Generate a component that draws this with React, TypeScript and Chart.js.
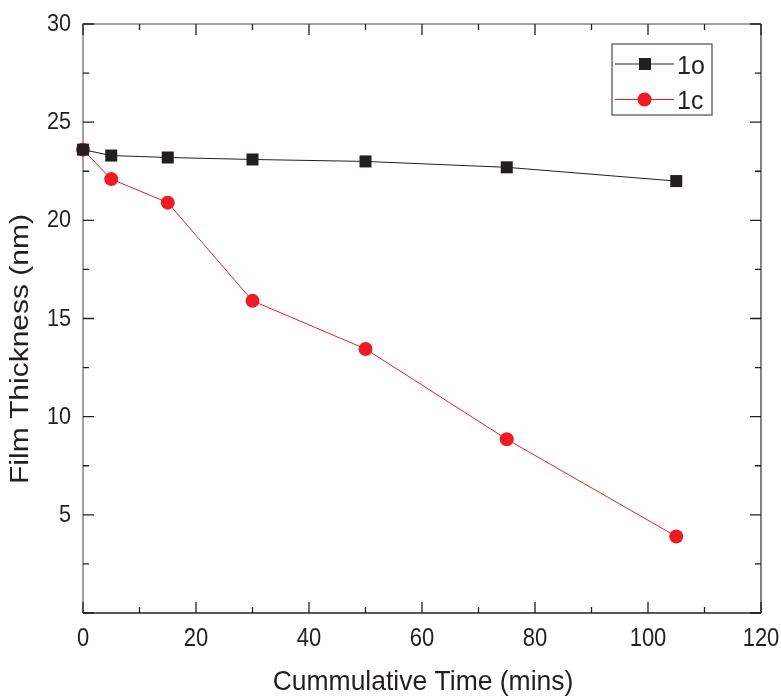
import React, { useEffect, useRef } from "react";
import { Chart, registerables } from "chart.js";

Chart.register(...registerables);

const timeMins = [0, 5, 15, 30, 50, 75, 105];
const thickness1o = [23.6, 23.3, 23.2, 23.1, 23.0, 22.7, 22.0];
const thickness1c = [23.6, 22.1, 20.9, 15.9, 13.45, 8.85, 3.9];
const seriesLabels = ["1o", "1c"];
const xMajorTicks = [0, 20, 40, 60, 80, 100, 120];
const xMinorTicks = [10, 30, 50, 70, 90, 110];
const yMajorTicks = [0, 5, 10, 15, 20, 25, 30];
const yMinorTicks = [2.5, 7.5, 12.5, 17.5, 22.5, 27.5];
const yTickLabels = ["", "5", "10", "15", "20", "25", "30"];
const xTitle = "Cummulative Time (mins)";
const yTitle = "Film Thickness (nm)";

const FONT = "'Liberation Sans', Arial, Helvetica, sans-serif";
const BLACK = "#231f20";
const RED = "#ed1c24";

const framePlugin = {
  id: "frameTicks",
  beforeDatasetsDraw(chart: any) {
    const { ctx, chartArea } = chart;
    const { left, right, top, bottom } = chartArea;
    const xs = chart.scales.x;
    const ys = chart.scales.y;
    ctx.save();
    ctx.lineWidth = 1.5;
    ctx.strokeStyle = "#808285";
    ctx.beginPath();
    ctx.moveTo(left, bottom);
    ctx.lineTo(left, top);
    ctx.lineTo(right, top);
    ctx.stroke();
    ctx.strokeStyle = "#58595b";
    ctx.beginPath();
    ctx.moveTo(right, top);
    ctx.lineTo(right, bottom);
    ctx.stroke();
    ctx.strokeStyle = BLACK;
    ctx.beginPath();
    ctx.moveTo(left, bottom);
    ctx.lineTo(right, bottom);
    ctx.stroke();

    ctx.lineWidth = 1.3;
    ctx.strokeStyle = BLACK;
    const major = 11;
    const minor = 6;
    ctx.beginPath();
    xMajorTicks.forEach((v) => {
      const px = xs.getPixelForValue(v);
      ctx.moveTo(px, bottom);
      ctx.lineTo(px, bottom - major);
      ctx.moveTo(px, top);
      ctx.lineTo(px, top + major);
    });
    xMinorTicks.forEach((v) => {
      const px = xs.getPixelForValue(v);
      ctx.moveTo(px, bottom);
      ctx.lineTo(px, bottom - minor);
      ctx.moveTo(px, top);
      ctx.lineTo(px, top + minor);
    });
    yMajorTicks.forEach((v) => {
      const py = ys.getPixelForValue(v);
      ctx.moveTo(left, py);
      ctx.lineTo(left + major, py);
      ctx.moveTo(right, py);
      ctx.lineTo(right - major, py);
    });
    yMinorTicks.forEach((v) => {
      const py = ys.getPixelForValue(v);
      ctx.moveTo(left, py);
      ctx.lineTo(left + minor, py);
      ctx.moveTo(right, py);
      ctx.lineTo(right - minor, py);
    });
    ctx.stroke();

    // tick labels
    ctx.fillStyle = BLACK;
    ctx.textBaseline = "alphabetic";
    ctx.font = `25px ${FONT}`;
    ctx.textAlign = "center";
    xMajorTicks.forEach((v) => {
      const px = xs.getPixelForValue(v);
      ctx.save();
      ctx.translate(px, bottom + 33);
      ctx.scale(0.88, 1);
      ctx.fillText(String(v), 0, 0);
      ctx.restore();
    });
    ctx.font = `24px ${FONT}`;
    ctx.textAlign = "right";
    yMajorTicks.forEach((v, i) => {
      const py = ys.getPixelForValue(v);
      ctx.save();
      ctx.translate(left - 12, py + 7);
      ctx.scale(0.9, 1);
      ctx.fillText(yTickLabels[i], 0, 0);
      ctx.restore();
    });

    // axis titles
    ctx.textAlign = "center";
    ctx.font = `28px ${FONT}`;
    ctx.save();
    ctx.translate((left + right) / 2 + 1, bottom + 77);
    ctx.scale(0.946, 1);
    ctx.fillText(xTitle, 0, 0);
    ctx.restore();

    ctx.font = `30px ${FONT}`;
    ctx.save();
    ctx.translate(28, 349);
    ctx.scale(0.84, 1);
    ctx.rotate(-Math.PI / 2);
    ctx.fillText(yTitle, 0, 0);
    ctx.restore();

    ctx.restore();
  },
};

const legendPlugin = {
  id: "boxLegend",
  afterDraw(chart: any) {
    const { ctx, chartArea } = chart;
    const bx = chartArea.right - 149;
    const by = chartArea.top + 20;
    const bw = 100;
    const bh = 71;
    ctx.save();
    ctx.fillStyle = "#ffffff";
    ctx.fillRect(bx, by, bw, bh);
    ctx.strokeStyle = "#58595b";
    ctx.lineWidth = 1.3;
    ctx.strokeRect(bx, by, bw, bh);
    chart.data.datasets.forEach((ds: any, i: number) => {
      const cy = by + 20 + i * 35.5;
      ctx.strokeStyle = ds.borderColor;
      ctx.lineWidth = 1;
      ctx.beginPath();
      ctx.moveTo(bx + 3, cy);
      ctx.lineTo(bx + 62, cy);
      ctx.stroke();
      ctx.fillStyle = ds.pointBackgroundColor;
      if (ds.pointStyle === "rect") {
        ctx.fillRect(bx + 27, cy - 6, 12, 12);
      } else {
        ctx.beginPath();
        ctx.arc(bx + 32.5, cy, 7, 0, Math.PI * 2);
        ctx.fill();
      }
      ctx.fillStyle = BLACK;
      ctx.font = `25px ${FONT}`;
      ctx.textBaseline = "alphabetic";
      ctx.textAlign = "left";
      ctx.fillText(ds.label, bx + 65, cy + 9.5);
    });
    ctx.restore();
  },
};

export default function App() {
  const canvasRef = useRef<HTMLCanvasElement | null>(null);

  useEffect(() => {
    if (!canvasRef.current) return;
    const chart = new Chart(canvasRef.current, {
      type: "line",
      data: {
        datasets: [
          {
            label: seriesLabels[0],
            data: timeMins.map((t, i) => ({ x: t, y: thickness1o[i] })),
            borderColor: BLACK,
            backgroundColor: BLACK,
            pointBackgroundColor: BLACK,
            pointBorderColor: BLACK,
            pointStyle: "rect",
            pointRadius: 8.5,
            pointBorderWidth: 0,
            borderWidth: 1,
            clip: false as any,
          },
          {
            label: seriesLabels[1],
            data: timeMins.map((t, i) => ({ x: t, y: thickness1c[i] })),
            borderColor: RED,
            backgroundColor: RED,
            pointBackgroundColor: RED,
            pointBorderColor: RED,
            pointStyle: "circle",
            pointRadius: 7,
            pointBorderWidth: 0,
            borderWidth: 1,
            clip: false as any,
          },
        ],
      },
      options: {
        animation: false,
        responsive: false,
        events: [],
        layout: { padding: { top: 24, right: 20, left: 83, bottom: 83 } },
        plugins: {
          legend: { display: false },
          tooltip: { enabled: false },
        },
        scales: {
          x: {
            type: "linear",
            display: false,
            min: 0,
            max: 120,
          },
          y: {
            type: "linear",
            display: false,
            min: 0,
            max: 30,
          },
        },
      },
      plugins: [framePlugin, legendPlugin],
    });
    return () => chart.destroy();
  }, []);

  return (
    <div style={{ position: "fixed", left: 0, top: 0, width: 781, height: 696, background: "#fff" }}>
      <canvas ref={canvasRef} width={781} height={696} />
    </div>
  );
}
